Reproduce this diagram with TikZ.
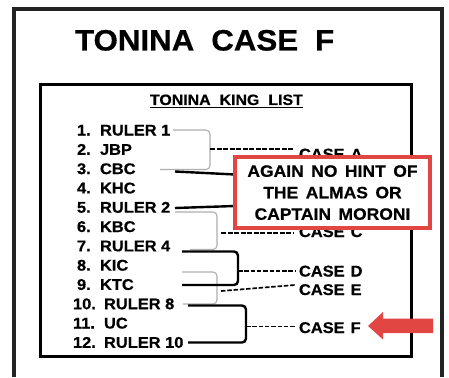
\documentclass[tikz,border=0pt]{standalone}
\usepackage{fontspec}
\setmainfont{Liberation Sans}[FakeStretch=1.06, BoldFeatures={FakeBold=0.6}]
\definecolor{redc}{RGB}{226,70,66}
\definecolor{grayl}{RGB}{175,175,175}
\definecolor{framec}{RGB}{35,35,35}
\begin{document}
\begin{tikzpicture}[x=1pt,y=-1pt,
  txt/.style={inner sep=0pt, outer sep=0pt, anchor=base west, font=\fontsize{15.5}{18}\selectfont\bfseries},
  blk/.style={line width=2.4pt, rounded corners=4pt},
  gry/.style={draw=grayl, line width=1.1pt, rounded corners=4pt},
  dsh/.style={line width=1.7pt, dash pattern=on 4.5pt off 1.8pt},
  dshb/.style={line width=2.2pt, dash pattern=on 5pt off 1.5pt},
  notebox/.style={draw=redc, line width=3.5pt, fill=white, minimum width=195pt, minimum height=71pt, inner sep=0pt, align=center, font=\fontsize{16.5}{21.5}\selectfont\bfseries}
]
\useasboundingbox (0,0) rectangle (449,377);
\fill[white] (0,0) rectangle (449,377);
% frames
\draw[framec, line width=3.5pt] (14,377) -- (14,9) -- (442,9) -- (442,377);
\draw[line width=3pt] (40,85) rectangle (411,356);
% titles
\node[txt, font=\fontsize{29.5}{32}\selectfont\bfseries] (title) at (75,50.5) {\spaceskip=17pt TONINA CASE F};
\node[txt, font=\fontsize{15}{18}\selectfont\bfseries] (kl) at (150,105) {\spaceskip=9pt TONINA KING LIST};
\draw[line width=1.3pt] ([yshift=-2.5pt]kl.base west) -- ([yshift=-2.5pt]kl.base east);
% list
\node[txt] (k1) at (77,135.5) {1.};   \node[txt] (n1) at (100,135.5) {RULER 1};
\node[txt] (k2) at (77,154.8) {2.};   \node[txt] (n2) at (100,154.8) {JBP};
\node[txt] (k3) at (77,174.1) {3.};   \node[txt] (n3) at (100,174.1) {CBC};
\node[txt] (k4) at (77,193.4) {4.};   \node[txt] (n4) at (100,193.4) {KHC};
\node[txt] (k5) at (77,212.7) {5.};   \node[txt] (n5) at (100,212.7) {RULER 2};
\node[txt] (k6) at (77,232.0) {6.};   \node[txt] (n6) at (100,232.0) {KBC};
\node[txt] (k7) at (77,251.3) {7.};   \node[txt] (n7) at (100,251.3) {RULER 4};
\node[txt] (k8) at (77,270.6) {8.};   \node[txt] (n8) at (100,270.6) {KIC};
\node[txt] (k9) at (77,289.9) {9.};   \node[txt] (n9) at (100,289.9) {KTC};
\node[txt] (k10) at (73,309.2) {10.}; \node[txt] (n10) at (104,309.2) {RULER 8};
\node[txt] (k11) at (73,328.5) {11.}; \node[txt] (n11) at (104,328.5) {UC};
\node[txt] (k12) at (73,347.8) {12.}; \node[txt] (n12) at (104,347.8) {RULER 10};
% case labels
\node[txt] (ca) at (299,159.5) {\spaceskip=6pt CASE A};
\node[txt] (cc) at (299,237) {\spaceskip=6pt CASE C};
\node[txt] (cd) at (299,276.5) {\spaceskip=6pt CASE D};
\node[txt] (ce) at (299,295) {\spaceskip=6pt CASE E};
\node[txt] (cf) at (299,333) {\spaceskip=6pt CASE F};
% connector end points
\coordinate (a1) at (173,130);   \coordinate (a3) at (160,169.5);  \coordinate (xa) at (210,0);
\coordinate (c5) at (175,212);   \coordinate (c7) at (190,249.5);  \coordinate (xc) at (217,0);
\coordinate (e8) at (182,272);   \coordinate (e10) at (183,304);
\coordinate (d7) at (182,251.5); \coordinate (d9) at (182,285);    \coordinate (xd) at (238,0);
\coordinate (f10) at (188,305.5);\coordinate (f12) at (188,342.5); \coordinate (xf) at (246,0);
\coordinate (b3) at (175,171.5); \coordinate (b3e) at (235,174.5);
\coordinate (b5) at (175,208);   \coordinate (b5e) at (235,206);
\coordinate (da) at (210,149);   \coordinate (dae) at (294,149);
\coordinate (dc) at (221,233);   \coordinate (dce) at (294,233);
\coordinate (dd) at (238,271);   \coordinate (dde) at (296,271);
\coordinate (de) at (221,291);   \coordinate (dee) at (295,285);
\coordinate (df) at (246,326.5); \coordinate (dfe) at (296,326.5);
% gray brackets
\draw[gry] (a1) -- (a1 -| xa) -- (a3 -| xa) -- (a3);
\draw[gry] (c5) -- (c5 -| xc) -- (c7 -| xc) -- (c7);
\draw[gry] (e8) -- (e8 -| xc) -- (e10 -| xc) -- (e10);
% dashed connectors
\draw[dshb] (da) -- (dae);
\draw[dshb] (dc) -- (dce);
\draw[dsh] (dd) -- (dde);
\draw[dsh] (de) -- (dee);
\draw[dsh] (df) -- (dfe);
% black brackets and lines
\draw[blk] (d7) -- (d7 -| xd) -- (d9 -| xd) -- (d9);
\draw[blk] (f10) -- (f10 -| xf) -- (f12 -| xf) -- (f12);
\draw[line width=2.4pt] (b3) -- (b3e);
\draw[line width=2.4pt] (b5) -- (b5e);
% note box
\node[notebox] (note) at (332.5,192.6) {\spaceskip=7.5pt AGAIN NO HINT OF\\ \spaceskip=7.5pt THE ALMAS OR\\ \spaceskip=7.5pt CAPTAIN MORONI};
% red arrow
\fill[redc] (368,326) -- (383,312) -- (383,318.5) -- (433,318.5) -- (433,333) -- (383,333) -- (383,339.5) -- cycle;
\end{tikzpicture}
\end{document}
